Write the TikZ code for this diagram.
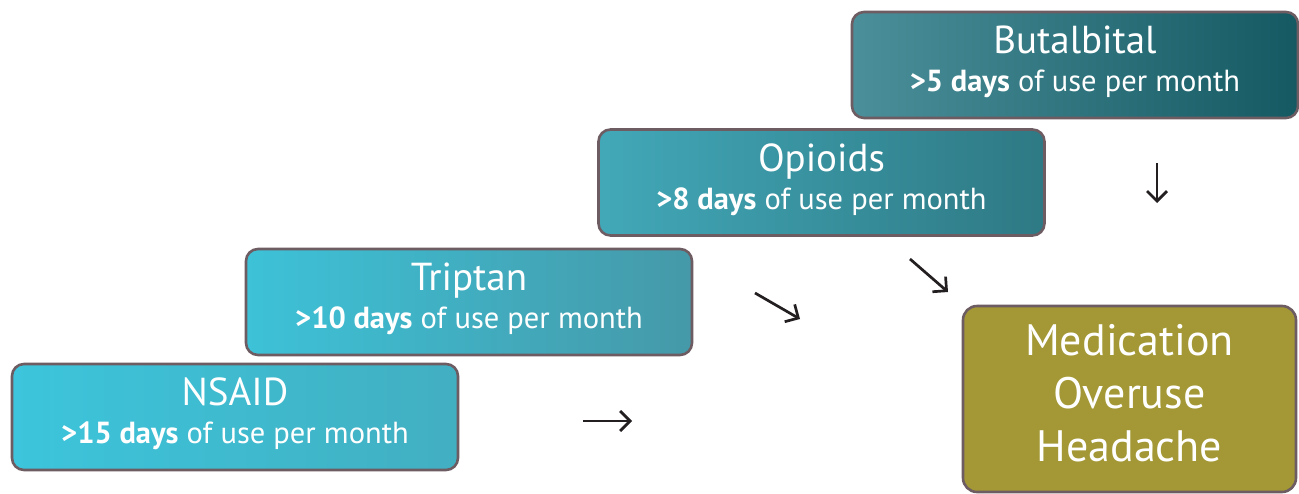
\documentclass[tikz,border=0pt]{standalone}
\usepackage{fontspec}
\setmainfont{PT Sans}
\usetikzlibrary{arrows.meta}
\definecolor{bord}{HTML}{6E5C63}
\definecolor{mohfill}{HTML}{A39835}
\definecolor{arrowc}{HTML}{231F20}
\definecolor{cA}{HTML}{3CC5DC}
\definecolor{cB}{HTML}{42AFC1}
\definecolor{cC}{HTML}{3DC2D8}
\definecolor{cD}{HTML}{4599A8}
\definecolor{cE}{HTML}{42A8B8}
\definecolor{cF}{HTML}{2E7984}
\definecolor{cG}{HTML}{4A8F99}
\definecolor{cH}{HTML}{155A63}
\tikzset{
  stepbox/.style={draw=bord, line width=2.6pt, rounded corners=12pt,
    minimum width=446pt, minimum height=106pt, text=white, align=center,
    inner sep=0pt, text depth=12pt, font=\fontsize{30.5}{38}\selectfont},
  mohbox/.style={draw=bord, line width=2.6pt, rounded corners=14pt, fill=mohfill,
    minimum width=333pt, minimum height=186pt, text=white, align=center,
    inner sep=0pt, text depth=12pt, font=\fontsize{44}{53}\selectfont},
  glypharrow/.style={line width=2.7pt, draw=arrowc,
    -{Straight Barb[length=10pt,width=20pt,line width=2.7pt]}}
}
\newcommand{\boxttl}[1]{{\fontsize{39}{38}\selectfont #1}}
\begin{document}
\begin{tikzpicture}[x=1pt,y=-1pt]
\useasboundingbox (0,0) rectangle (1299,493);
\node[stepbox, left color=cA, right color=cB] (nsaid) at (235,417)
  {\boxttl{NSAID}\\\textbf{>15 days} of use per month};
\node[stepbox, left color=cC, right color=cD] (triptan) at (469,302)
  {\boxttl{Triptan}\\\textbf{>10 days} of use per month};
\node[stepbox, left color=cE, right color=cF] (opioids) at (821.5,182.5)
  {\boxttl{Opioids}\\\textbf{>8 days} of use per month};
\node[stepbox, left color=cG, right color=cH] (butal) at (1075,65)
  {\boxttl{Butalbital}\\\textbf{>5 days} of use per month};
\node[mohbox] (moh) at (1129.5,399) {Medication\\Overuse\\Headache};
\coordinate (a1s) at (583,421); \coordinate (a1e) at (632,421);
\coordinate (a2s) at (755,293); \coordinate (a2e) at (800,319);
\coordinate (a3s) at (910,259); \coordinate (a3e) at (948,292);
\coordinate (a4s) at (1157,163); \coordinate (a4e) at (1157,203);
\draw[glypharrow] (a1s) -- (a1e);
\draw[glypharrow] (a2s) -- (a2e);
\draw[glypharrow] (a3s) -- (a3e);
\draw[glypharrow] (a4s) -- (a4e);
\end{tikzpicture}
\end{document}
